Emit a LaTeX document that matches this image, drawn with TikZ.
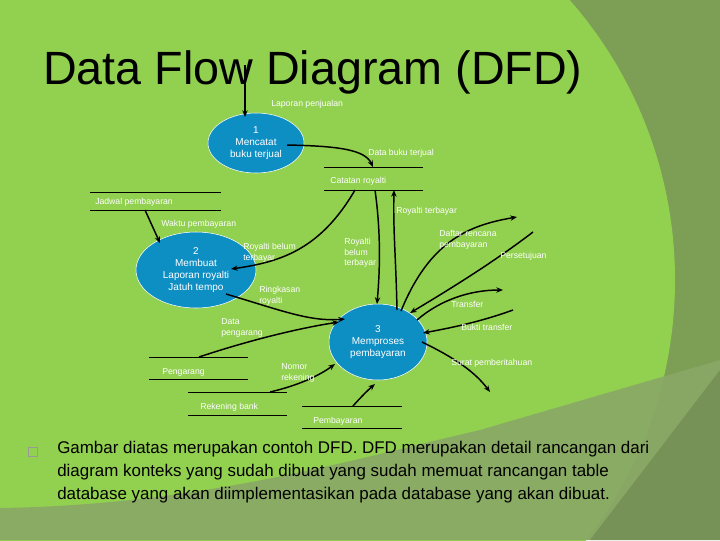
\documentclass[tikz,border=0pt]{standalone}
\usepackage{fontspec}
\setmainfont{Liberation Sans}
\usetikzlibrary{arrows.meta,shapes.geometric}
\definecolor{bgdark}{HTML}{7C9E55}
\definecolor{bglight}{HTML}{92D050}
\definecolor{band}{HTML}{8AA866}
\definecolor{procblue}{HTML}{0E8FC4}
\begin{document}
\begin{tikzpicture}[x=0.75pt,y=-0.75pt,
  proc/.style={ellipse,draw=white,fill=procblue,text=white,font=\fontsize{7.5}{9}\selectfont,align=center,inner sep=0pt},
  lbl/.style={text=white,font=\fontsize{6.5}{8}\selectfont,align=left,inner sep=0pt},
  flow/.style={-{Stealth[length=5pt,width=4pt]},line width=1.1pt},
  storeln/.style={line width=0.6pt}]
\useasboundingbox (0,0) rectangle (720,540);
\fill[bgdark] (0,0) rectangle (720,540);
\begin{scope}
\clip (0,0) rectangle (720,540);
\fill[bglight] (250,280) circle[x radius=425, y radius=-425];
\fill[band,opacity=0.9] (0,508) .. controls (200,505) and (350,460) .. (480,430) -- (720,360) -- (720,540) -- (0,540) -- cycle;
\fill[black,opacity=0.12] (590,540) -- (720,370) -- (720,540) -- cycle;
\end{scope}
\node[anchor=base west,inner sep=0pt,font=\fontsize{35}{40}\selectfont] (title) at (43,84) {Data Flow Diagram (DFD)};
% processes
\node[proc,minimum width=72pt,minimum height=45pt] (p1) at (256,143) {1\\Mencatat\\buku terjual};
\node[proc,minimum width=90pt,minimum height=57pt] (p2) at (196,270) {2\\Membuat\\Laporan royalti\\Jatuh tempo};
\node[proc,minimum width=73.5pt,minimum height=57pt] (p3) at (378,342) {3\\Memproses\\pembayaran};
% stores
\draw[storeln] (324,167) -- (423,167) (324,190) -- (423,190);
\node[lbl,anchor=west] (cr) at (330,181) {Catatan royalti};
\draw[storeln] (90,192) -- (221,192) (90,210) -- (221,210);
\node[lbl,anchor=west] (jp) at (95,202) {Jadwal pembayaran};
\draw[storeln] (149,357) -- (248,357) (149,379) -- (248,379);
\node[lbl,anchor=west] (pg) at (162,372) {Pengarang};
\draw[storeln] (188,392) -- (287,392) (188,415) -- (287,415);
\node[lbl,anchor=west] (rb) at (200,407) {Rekening bank};
\draw[storeln] (302,406) -- (402,406) (302,428) -- (402,428);
\node[lbl,anchor=west] (pb) at (313,421) {Pembayaran};
\coordinate (crA) at (355,190); \coordinate (crB) at (375,190); \coordinate (crC) at (394,190); \coordinate (crT) at (373,167);
\coordinate (jpB) at (145,210); \coordinate (pgT) at (199,357); \coordinate (rbT) at (270,392); \coordinate (pbT) at (353,406);
\coordinate (lpS) at (245,65);
\coordinate (e1) at (517,217); \coordinate (e2) at (533,232); \coordinate (e3) at (503,290); \coordinate (e4) at (513,310); \coordinate (e5) at (490,392);
% flows
\draw[flow] (lpS) -- (245,117);
\node[lbl,anchor=west] at (271,104) {Laporan penjualan};
\draw[flow] (287,145) .. controls (340,146) and (365,150) .. (crT);
\node[lbl,anchor=west] at (368,153) {Data buku terjual};
\draw[flow] (crA) .. controls (320,250) and (280,262) .. (231,269);
\node[lbl,anchor=west] at (243,253) {Royalti belum\\terbayar};
\draw[flow] (jpB) -- (160,243);
\node[lbl,anchor=west] at (161,224) {Waktu pembayaran};
\draw[flow] (crB) .. controls (382,240) and (379,280) .. (377,304);
\node[lbl,anchor=west] at (344,253) {Royalti\\belum\\terbayar};
\draw[flow] (397,310) .. controls (396,260) and (393,230) .. (crC);
\node[lbl,anchor=west] at (396,211) {Royalti terbayar};
\draw[flow] (401,311) .. controls (430,240) and (470,225) .. (e1);
\node[lbl,anchor=west] at (439,240) {Daftar rencana\\pembayaran};
\draw[flow] (e2) .. controls (490,265) and (440,295) .. (410,313);
\node[lbl,anchor=west] at (500,256) {Persetujuan};
\draw[flow] (417,320) .. controls (440,300) and (470,290) .. (e3);
\node[lbl,anchor=west] at (451,304) {Transfer};
\draw[flow] (e4) .. controls (480,322) and (450,328) .. (423,333);
\node[lbl,anchor=west] at (461,327) {Bukti transfer};
\draw[flow] (422,342) .. controls (455,358) and (475,372) .. (e5);
\node[lbl,anchor=west] at (451,363) {Surat pemberitahuan};
\draw[flow] (226,294) .. controls (280,310) and (310,322) .. (345,319);
\node[lbl,anchor=west] at (259,296) {Ringkasan\\royalti};
\draw[flow] (pgT) .. controls (250,340) and (300,328) .. (339,322);
\node[lbl,anchor=west] at (221,328) {Data\\pengarang};
\draw[flow] (rbT) .. controls (300,385) and (320,375) .. (335,364);
\node[lbl,anchor=west] at (281,373) {Nomor\\rekening};
\draw[flow] (pbT) .. controls (360,398) and (368,390) .. (375,384);
% body text
\draw[gray!80!white,line width=0.6pt] (28,447) rectangle (37,456);
\node[anchor=north west,inner sep=0pt,align=left,font=\fontsize{12.7}{17.3}\selectfont] (body) at (57,441)
 {Gambar diatas merupakan contoh DFD. DFD merupakan detail rancangan dari\\diagram konteks yang sudah dibuat yang sudah memuat rancangan table\\database yang akan diimplementasikan pada database yang akan dibuat.};
\end{tikzpicture}
\end{document}
